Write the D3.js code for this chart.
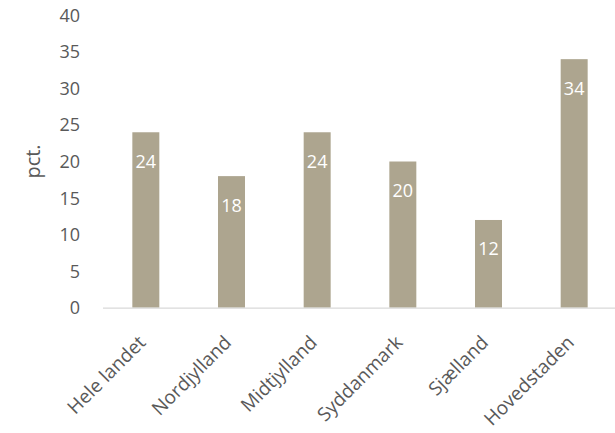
<!DOCTYPE html>
<html>
<head>
<meta charset="utf-8">
<script src="https://cdn.jsdelivr.net/npm/d3@7"></script>
<style>
  body { margin: 0; background: #fff; }
  svg text { font-family: "Open Sans", "Noto Sans", sans-serif; }
</style>
</head>
<body>
<svg id="chart" width="615" height="433"></svg>
<script>
// Regional shares, in percent
const regions = ["Hele landet", "Nordjylland", "Midtjylland", "Syddanmark", "Sjælland", "Hovedstaden"];
const shares = [24, 18, 24, 20, 12, 34];
const yTicks = [0, 5, 10, 15, 20, 25, 30, 35, 40];
const yTitle = "pct.";

const svg = d3.select("#chart");
const margin = { left: 103, right: -2, top: 15.3, bottom: 125.3 };
const W = 615, H = 433;

const x = d3.scaleBand()
  .domain(regions)
  .range([margin.left, W - margin.right])
  .paddingInner(0.685)
  .paddingOuter(0.3425);

const y = d3.scaleLinear()
  .domain([0, 40])
  .range([H - margin.bottom, margin.top]);

const textColor = "#595959";
const barColor = "#ADA58F";
const fontSize = 18;

// y tick labels (no axis line)
svg.append("g")
  .selectAll("text")
  .data(yTicks)
  .join("text")
  .attr("x", 80)
  .attr("y", d => y(d))
  .attr("dy", "0.36em")
  .attr("text-anchor", "end")
  .attr("font-size", fontSize)
  .attr("fill", textColor)
  .text(d => d);

// y axis title
svg.append("text")
  .attr("transform", `translate(40,${y(20)}) rotate(-90)`)
  .attr("text-anchor", "middle")
  .attr("font-size", 20)
  .attr("fill", textColor)
  .text(yTitle);

// bars
svg.append("g")
  .selectAll("rect")
  .data(regions)
  .join("rect")
  .attr("x", d => x(d))
  .attr("width", x.bandwidth())
  .attr("y", (d, i) => y(shares[i]))
  .attr("height", (d, i) => y(0) - y(shares[i]))
  .attr("fill", barColor);

// baseline
svg.append("line")
  .attr("x1", margin.left)
  .attr("x2", W)
  .attr("y1", y(0) + 0.5)
  .attr("y2", y(0) + 0.5)
  .attr("stroke", "#D9D9D9")
  .attr("stroke-width", 1.3);

// value labels inside bar tops
svg.append("g")
  .selectAll("text")
  .data(regions)
  .join("text")
  .attr("x", d => x(d) + x.bandwidth() / 2)
  .attr("y", (d, i) => y(shares[i]) + 29)
  .attr("dy", "0.36em")
  .attr("text-anchor", "middle")
  .attr("font-size", fontSize)
  .attr("fill", "#ffffff")
  .text((d, i) => shares[i]);

// category labels, rotated
svg.append("g")
  .selectAll("text")
  .data(regions)
  .join("text")
  .attr("transform", d => `translate(${x(d) + x.bandwidth() / 2 + 1},${y(0) + 36}) rotate(-45)`)
  .attr("text-anchor", "end")
  .attr("font-size", 19)
  .attr("fill", textColor)
  .text(d => d);
</script>
</body>
</html>
